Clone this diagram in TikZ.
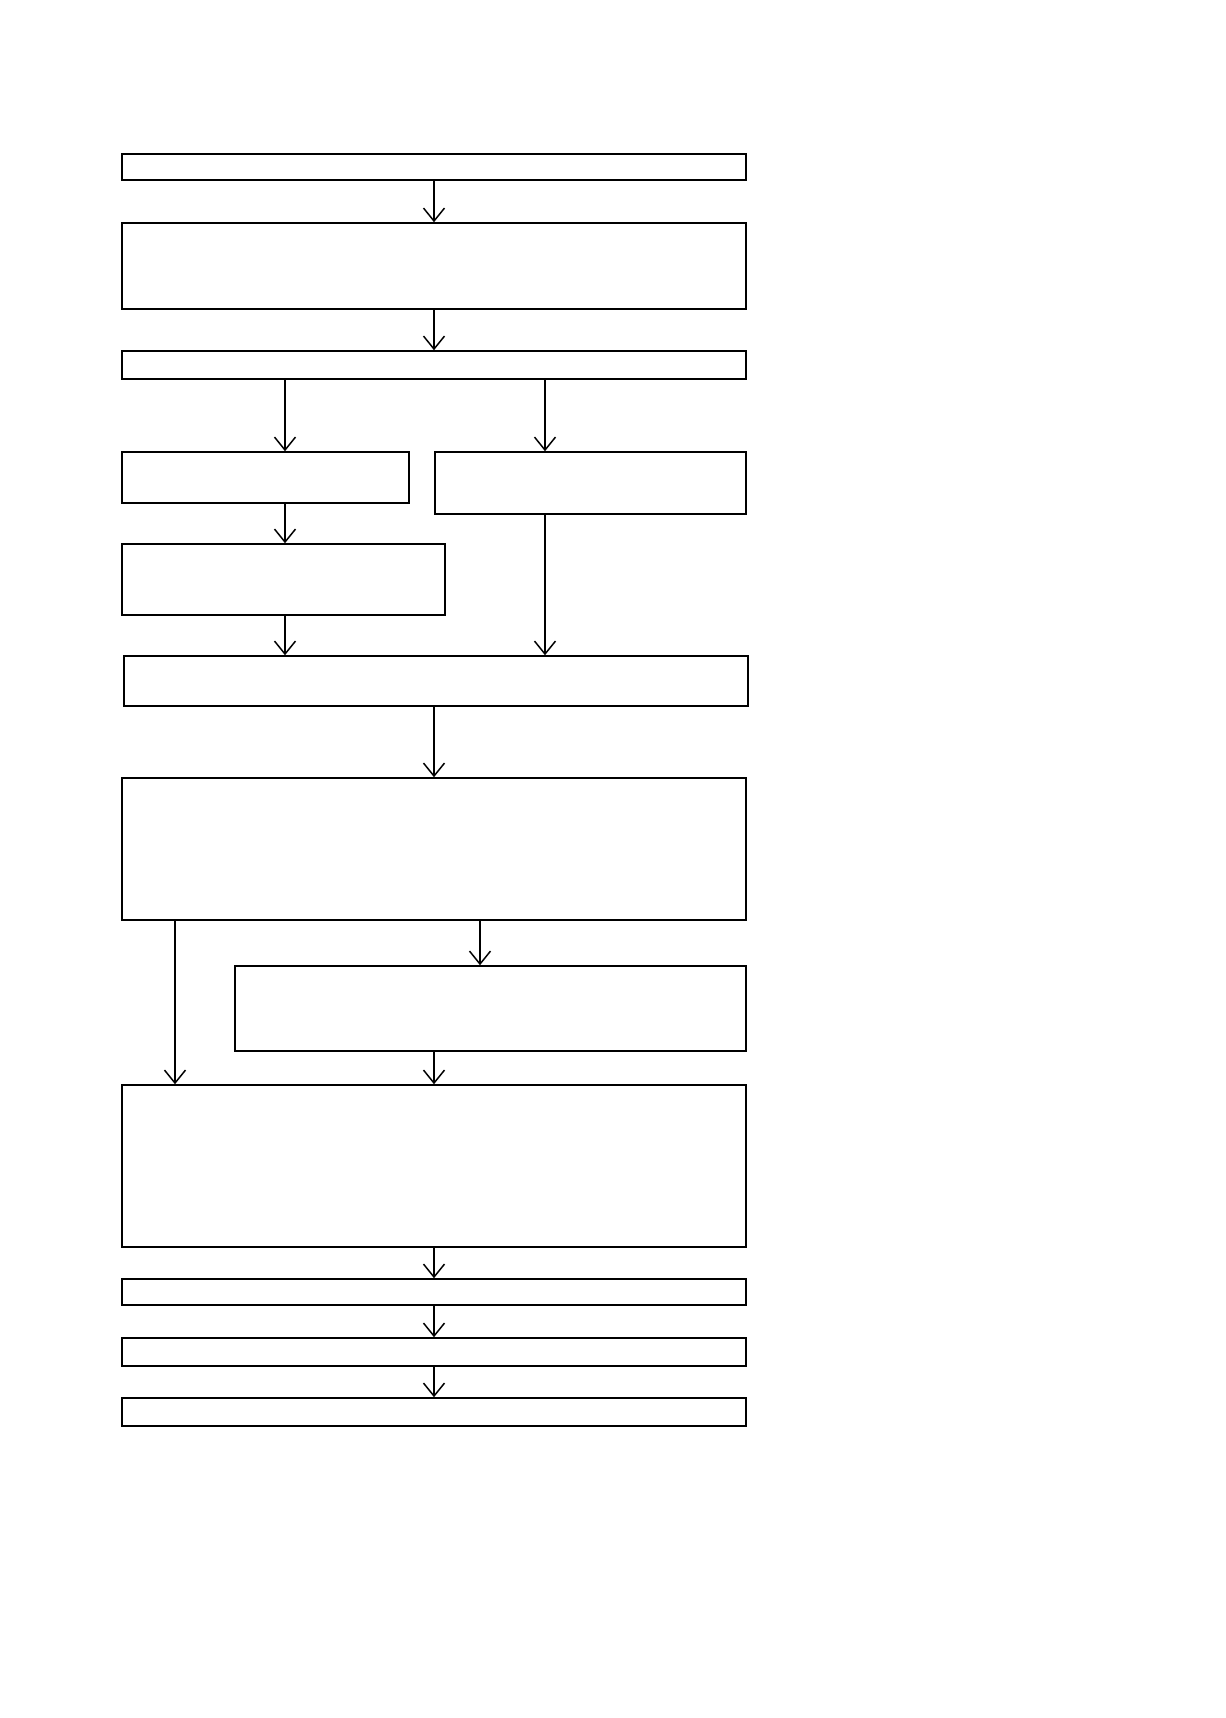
\documentclass[tikz,border=0pt]{standalone}
\usetikzlibrary{arrows.meta}
\newdimen\pxu
\pxu=0.2mm
\tikzset{
  box/.style={draw, line width=0.3mm, inner sep=0pt, rectangle},
  flow/.style={line width=0.3mm, ->},
}
\begin{document}
\begin{tikzpicture}[x=0.2mm, y=-0.2mm, >={Straight Barb[length=2.6mm,width=4.2mm]}]
        \useasboundingbox (0,-2) rectangle (1225,1716);
        %% Columns for the connectors
        \coordinate (xmid) at (434,0);
        \coordinate (xleft) at (285,0);
        \coordinate (xright) at (545,0);
        \coordinate (xfar) at (175,0);
        \coordinate (xsub) at (480,0);
        %% Upper part
        \node[box, minimum width=624\pxu, minimum height=26\pxu] (start) at (434,165) {};
        \node[box, minimum width=624\pxu, minimum height=86\pxu] (prepare) at (434,264) {};
        \node[box, minimum width=624\pxu, minimum height=28\pxu] (split) at (434,363) {};
        %% Two branches
        \node[box, minimum width=287\pxu, minimum height=51\pxu] (leftA) at (265.5,475.5) {};
        \node[box, minimum width=311\pxu, minimum height=62\pxu] (rightA) at (590.5,481) {};
        \node[box, minimum width=323\pxu, minimum height=71\pxu] (leftB) at (283.5,577.5) {};
        \node[box, minimum width=624\pxu, minimum height=50\pxu] (merge) at (436,679) {};
        %% Lower part
        \node[box, minimum width=624\pxu, minimum height=142\pxu] (process) at (434,847) {};
        \node[box, minimum width=511\pxu, minimum height=85\pxu] (extra) at (490.5,1006.5) {};
        \node[box, minimum width=624\pxu, minimum height=162\pxu] (result) at (434,1164) {};
        \node[box, minimum width=624\pxu, minimum height=26\pxu] (stepA) at (434,1290) {};
        \node[box, minimum width=624\pxu, minimum height=28\pxu] (stepB) at (434,1350) {};
        \node[box, minimum width=624\pxu, minimum height=28\pxu] (finish) at (434,1410) {};
        %% Connectors
        \draw[flow] (start) -- (prepare);
        \draw[flow] (prepare) -- (split);
        \draw[flow] (split.south -| xleft) -- (leftA.north -| xleft);
        \draw[flow] (split.south -| xright) -- (rightA.north -| xright);
        \draw[flow] (leftA.south -| xleft) -- (leftB.north -| xleft);
        \draw[flow] (leftB.south -| xleft) -- (merge.north -| xleft);
        \draw[flow] (rightA.south -| xright) -- (merge.north -| xright);
        \draw[flow] (merge.south -| xmid) -- (process.north -| xmid);
        \draw[flow] (process.south -| xsub) -- (extra.north -| xsub);
        \draw[flow] (process.south -| xfar) -- (result.north -| xfar);
        \draw[flow] (extra.south -| xmid) -- (result.north -| xmid);
        \draw[flow] (result) -- (stepA);
        \draw[flow] (stepA) -- (stepB);
        \draw[flow] (stepB) -- (finish);
\end{tikzpicture}
\end{document}
